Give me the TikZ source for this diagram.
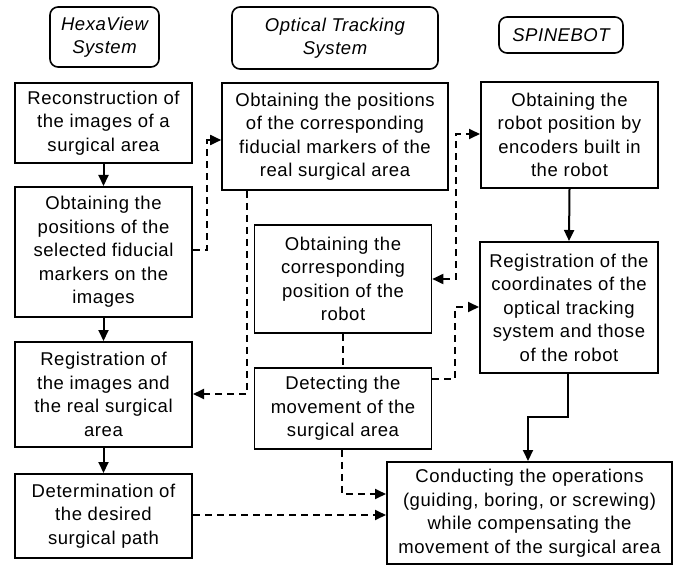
\documentclass[tikz,border=0pt]{standalone}
\usepackage{fontspec}
\setmainfont{Liberation Sans}[LetterSpace=3]
\usetikzlibrary{arrows.meta}
\tikzset{
  box/.style={draw=black, line width=2bp, fill=white, align=center, inner sep=0pt,
    font=\fontsize{18.5bp}{23.5bp}\selectfont},
  head/.style={box, line width=1.6bp, rounded corners=8bp, font=\fontsize{18.5bp}{23.5bp}\selectfont\itshape},
  sline/.style={line width=2bp, -{Triangle[length=11bp,width=10bp]}},
  dline/.style={line width=1.8bp, dash pattern=on 7bp off 5bp},
  tip/.style={-{Triangle[length=11bp,width=10bp]}},
  tips/.style={{Triangle[length=11bp,width=10bp]}-{Triangle[length=11bp,width=10bp]}}
}
\begin{document}
\begin{tikzpicture}[x=1bp,y=-1bp]
\useasboundingbox (0,0) rectangle (675,566);
% headers
\node[head, minimum width=109bp, minimum height=60bp] (H1) at (104.5,37) {HexaView\\System};
\node[head, minimum width=206bp, minimum height=62bp] (H2) at (335,38) {Optical Tracking\\System};
\node[head, minimum width=124bp, minimum height=36bp] (H3) at (561,35) {SPINEBOT};
% left column
\node[box, minimum width=177bp, minimum height=80bp] (L1) at (103.5,123) {Reconstruction of\\the images of a\\surgical area};
\node[box, minimum width=177bp, minimum height=130bp] (L2) at (103.5,252) {Obtaining the\\positions of the\\selected fiducial\\markers on the\\images};
\node[box, minimum width=177bp, minimum height=105bp] (L3) at (103.5,394.5) {Registration of\\the images and\\the real surgical\\area};
\node[box, minimum width=177bp, minimum height=84bp] (L4) at (103.5,516) {Determination of\\the desired\\surgical path};
% middle column
\node[box, line width=1.6bp, minimum width=226bp, minimum height=107bp] (M1) at (335,136.5) {Obtaining the positions\\of the corresponding\\fiducial markers of the\\real surgical area};
\node[box, line width=1.6bp, minimum width=177bp, minimum height=108bp] (M2) at (343,279) {Obtaining the\\corresponding\\position of the\\robot};
\node[box, line width=1.6bp, minimum width=177bp, minimum height=81bp] (M3) at (343,408.5) {Detecting the\\movement of the\\surgical area};
% right column
\node[box, minimum width=177bp, minimum height=106bp] (R1) at (569.5,135) {Obtaining the\\robot position by\\encoders built in\\the robot};
\node[box, minimum width=178bp, minimum height=131bp] (R2) at (569,307.5) {Registration of the\\coordinates of the\\optical tracking\\system and those\\of the robot};
\node[box, minimum width=285bp, minimum height=102bp] (R3) at (529.5,513) {Conducting the operations\\(guiding, boring, or screwing)\\while compensating the\\movement of the surgical area};
% solid connectors
\draw[sline] (L1.south) -- (L2.north);
\draw[sline] (L2.south) -- (L3.north);
\draw[sline] (L3.south) -- (L4.north);
\draw[sline] (R1.south) -- (R2.north);
\coordinate (k10) at (568,417);
\coordinate (k11) at (528,417);
\draw[sline] (R2.south -| k10) -- (k10) -- (k11) -- (R3.north -| k11);
% dashed connectors
\coordinate (k1) at (207,250);
\coordinate (k2) at (207,140);
\draw[dline, tip] (L2.east |- k1) -- (k1) -- (k2) -- (M1.west |- k2);
\coordinate (k3) at (247,394);
\draw[dline, tip] (M1.south -| k3) -- (k3) -- (L3.east |- k3);
\coordinate (k4) at (456,279);
\coordinate (k5) at (456,134);
\draw[dline, tips] (M2.east |- k4) -- (k4) -- (k5) -- (R1.west |- k5);
\draw[dline] (M2.south) -- (M3.north);
\coordinate (k6) at (455,379);
\coordinate (k7) at (455,307);
\draw[dline, tip] (M3.east |- k6) -- (k6) -- (k7) -- (R2.west |- k7);
\coordinate (k8) at (342,494);
\draw[dline, tip] (M3.south -| k8) -- (k8) -- (R3.west |- k8);
\coordinate (k9) at (300,515);
\draw[dline, tip] (L4.east |- k9) -- (R3.west |- k9);
\end{tikzpicture}
\end{document}
